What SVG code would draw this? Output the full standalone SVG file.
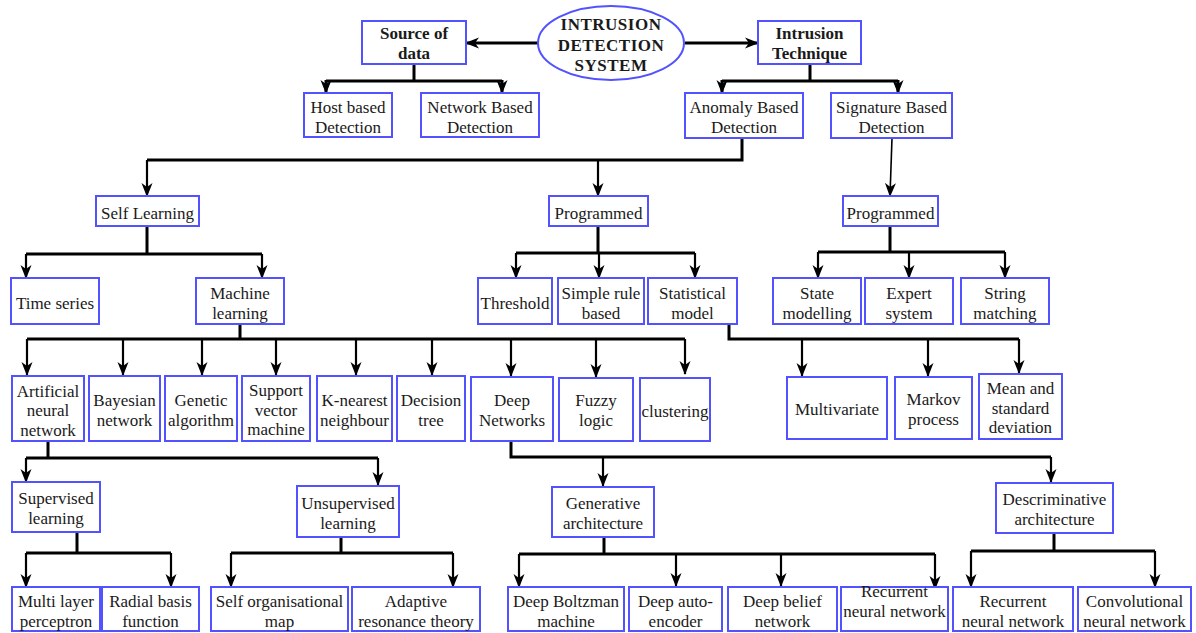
<svg xmlns="http://www.w3.org/2000/svg" width="1196" height="633" viewBox="0 0 1196 633">
<defs>
<style>
.bx{fill:#fff;stroke:#5252ff;stroke-width:2}
.t{font-family:"Liberation Serif","Times New Roman",serif;font-size:17px;fill:#1a1a1a;text-anchor:middle}
.b{font-weight:bold}
.tr{fill:none;stroke:#000;stroke-width:3}
.ar{fill:none;stroke:#000;stroke-width:2.2;marker-end:url(#ah)}
.ar3{fill:none;stroke:#000;stroke-width:3;marker-end:url(#ah)}
.ar1{fill:none;stroke:#000;stroke-width:1.6;marker-end:url(#ah)}
</style>
<marker id="ah" viewBox="0 0 14 12" refX="13" refY="6" markerWidth="14" markerHeight="12" markerUnits="userSpaceOnUse" orient="auto">
<path d="M0,0.5 L14,6 L0,11.5 L4,6 z" fill="#000"/>
</marker>
</defs>
<rect width="1196" height="633" fill="#fff"/>

<g id="connectors">
<path class="ar3" d="M538,43 H466"/>
<path class="ar3" d="M685,43 H758"/>
<path class="tr" d="M414,64 V81 M326,81 H502"/>
<path class="ar3" d="M326,80 V93"/><path class="ar3" d="M502,80 V93"/>
<path class="tr" d="M810,64 V81 M722,81 H898"/>
<path class="ar3" d="M722,80 V93"/><path class="ar3" d="M898,80 V93"/>
<path class="tr" d="M742,138 V160 H147"/>
<path class="ar" d="M147,160 V196"/><path class="ar" d="M598,160 V196"/>
<path class="ar1" d="M892,138 L890,196"/>
<path class="tr" d="M147,226 V254 M26,254 H262"/>
<path class="ar" d="M26,254 V278"/><path class="ar" d="M262,254 V278"/>
<path class="tr" d="M598,226 V253 M516,253 H695"/>
<path class="ar" d="M516,253 V278"/><path class="ar" d="M599,253 V278"/><path class="ar" d="M695,253 V278"/>
<path class="tr" d="M890,226 V252 M818,252 H1005"/>
<path class="ar" d="M818,252 V278"/><path class="ar" d="M909,252 V278"/><path class="ar" d="M1005,252 V278"/>
<path class="tr" d="M240,324 V339 M27,339 H685"/>
<path class="ar" d="M27,339 V375"/><path class="ar" d="M123,339 V375"/><path class="ar" d="M202,339 V375"/><path class="ar" d="M276,339 V375"/><path class="ar" d="M356,339 V375"/><path class="ar" d="M432,339 V375"/><path class="ar" d="M511,339 V376"/><path class="ar" d="M596,339 V377"/><path class="ar" d="M685,339 V374"/>
<path class="tr" d="M729,324 V339 H1019"/>
<path class="ar" d="M802,339 V376"/><path class="ar" d="M928,339 V376"/><path class="ar" d="M1019,339 V373"/>
<path class="tr" d="M48,441 V458 M26,458 H378"/>
<path class="ar" d="M26,458 V482"/><path class="ar" d="M378,458 V485"/>
<path class="tr" d="M511,441 V457 H1051"/>
<path class="ar" d="M603,457 V486"/><path class="ar" d="M1051,457 V482"/>
<path class="tr" d="M77,532 V553 M26,553 H171"/>
<path class="ar" d="M26,553 V587"/><path class="ar" d="M171,553 V587"/>
<path class="tr" d="M341,537 V553 M231,553 H453"/>
<path class="ar" d="M231,553 V587"/><path class="ar" d="M453,553 V587"/>
<path class="tr" d="M604,537 V554 M519,554 H935"/>
<path class="ar" d="M519,554 V587"/><path class="ar" d="M676,554 V586"/><path class="ar" d="M781,554 V586"/><path class="ar" d="M935,554 V589"/>
<path class="tr" d="M1054,533 V551 M971,551 H1155"/>
<path class="ar" d="M971,551 V587"/><path class="ar" d="M1155,551 V587"/>
</g>

<g id="ids"><ellipse class="bx" cx="611" cy="43" rx="73" ry="37"/><text class="t b" letter-spacing="0.5" x="611" y="30">INTRUSION</text><text class="t b" letter-spacing="0.5" x="611" y="51">DETECTION</text><text class="t b" letter-spacing="0.5" x="611" y="71">SYSTEM</text></g>
<g id="source"><rect class="bx" x="362" y="21" width="104" height="43"/><text class="t b" x="414" y="39">Source of</text><text class="t b" x="414" y="59">data</text></g>
<g id="technique"><rect class="bx" x="758" y="21" width="103" height="43"/><text class="t b" x="809.5" y="39">Intrusion</text><text class="t b" x="809.5" y="59">Technique</text></g>
<g id="host"><rect class="bx" x="304" y="93" width="88" height="44"/><text class="t" x="348" y="112.5">Host based</text><text class="t" x="348" y="132.5">Detection</text></g>
<g id="network"><rect class="bx" x="421" y="93" width="118" height="44"/><text class="t" x="480" y="112.5">Network Based</text><text class="t" x="480" y="132.5">Detection</text></g>
<g id="anomaly"><rect class="bx" x="685" y="93" width="118" height="45"/><text class="t" x="744" y="112.5">Anomaly Based</text><text class="t" x="744" y="132.5">Detection</text></g>
<g id="signature"><rect class="bx" x="831" y="93" width="121" height="45"/><text class="t" x="891.5" y="112.5">Signature Based</text><text class="t" x="891.5" y="132.5">Detection</text></g>
<g id="selflearning"><rect class="bx" x="96" y="196" width="103" height="30"/><text class="t" x="147.5" y="218.5">Self Learning</text></g>
<g id="programmed1"><rect class="bx" x="549" y="196" width="99" height="30"/><text class="t" x="598.5" y="218.5">Programmed</text></g>
<g id="programmed2"><rect class="bx" x="843" y="196" width="95" height="30"/><text class="t" x="890.5" y="218.5">Programmed</text></g>
<g id="timeseries"><rect class="bx" x="11" y="278" width="88" height="46"/><text class="t" x="55" y="308.5">Time series</text></g>
<g id="machinelearning"><rect class="bx" x="196" y="278" width="88" height="46"/><text class="t" x="240" y="298.5">Machine</text><text class="t" x="240" y="318.5">learning</text></g>
<g id="threshold"><rect class="bx" x="478" y="278" width="74" height="46"/><text class="t" x="515" y="308.5">Threshold</text></g>
<g id="simplerule"><rect class="bx" x="558" y="278" width="86" height="46"/><text class="t" x="601" y="298.5">Simple rule</text><text class="t" x="601" y="318.5">based</text></g>
<g id="statistical"><rect class="bx" x="648" y="278" width="89" height="46"/><text class="t" x="692.5" y="298.5">Statistical</text><text class="t" x="692.5" y="318.5">model</text></g>
<g id="state"><rect class="bx" x="773" y="278" width="88" height="46"/><text class="t" x="817" y="298.5">State</text><text class="t" x="817" y="318.5">modelling</text></g>
<g id="expert"><rect class="bx" x="865" y="278" width="88" height="46"/><text class="t" x="909" y="298.5">Expert</text><text class="t" x="909" y="318.5">system</text></g>
<g id="string"><rect class="bx" x="961" y="278" width="88" height="46"/><text class="t" x="1005" y="298.5">String</text><text class="t" x="1005" y="318.5">matching</text></g>
<g id="ann"><rect class="bx" x="12" y="376" width="72" height="65"/><text class="t" x="48" y="396.5">Artificial</text><text class="t" x="48" y="416">neural</text><text class="t" x="48" y="435.5">network</text></g>
<g id="bayesian"><rect class="bx" x="89" y="376" width="71" height="65"/><text class="t" x="124.5" y="406">Bayesian</text><text class="t" x="124.5" y="425.5">network</text></g>
<g id="genetic"><rect class="bx" x="165" y="376" width="72" height="65"/><text class="t" x="201" y="406">Genetic</text><text class="t" x="201" y="425.5">algorithm</text></g>
<g id="svm"><rect class="bx" x="242" y="376" width="68" height="65"/><text class="t" x="276" y="396">Support</text><text class="t" x="276" y="415.5">vector</text><text class="t" x="276" y="435">machine</text></g>
<g id="knn"><rect class="bx" x="317" y="376" width="75" height="65"/><text class="t" x="354.5" y="406">K-nearest</text><text class="t" x="354.5" y="425.5">neighbour</text></g>
<g id="decisiontree"><rect class="bx" x="397" y="376" width="68" height="65"/><text class="t" x="431" y="406">Decision</text><text class="t" x="431" y="425.5">tree</text></g>
<g id="deepnetworks"><rect class="bx" x="471" y="377" width="82" height="64"/><text class="t" x="512" y="406">Deep</text><text class="t" x="512" y="425.5">Networks</text></g>
<g id="fuzzy"><rect class="bx" x="559" y="378" width="74" height="63"/><text class="t" x="596" y="406">Fuzzy</text><text class="t" x="596" y="425.5">logic</text></g>
<g id="clustering"><rect class="bx" x="640" y="378" width="70" height="63"/><text class="t" x="675" y="417">clustering</text></g>
<g id="multivariate"><rect class="bx" x="787" y="377" width="100" height="62"/><text class="t" x="837" y="415">Multivariate</text></g>
<g id="markov"><rect class="bx" x="895" y="377" width="77" height="62"/><text class="t" x="933.5" y="405">Markov</text><text class="t" x="933.5" y="424.5">process</text></g>
<g id="mean"><rect class="bx" x="979" y="374" width="83" height="65"/><text class="t" x="1020.5" y="394">Mean and</text><text class="t" x="1020.5" y="413.5">standard</text><text class="t" x="1020.5" y="433">deviation</text></g>
<g id="supervised"><rect class="bx" x="12" y="482" width="88" height="50"/><text class="t" x="56" y="504">Supervised</text><text class="t" x="56" y="524">learning</text></g>
<g id="unsupervised"><rect class="bx" x="297" y="486" width="102" height="51"/><text class="t" x="348" y="509">Unsupervised</text><text class="t" x="348" y="529">learning</text></g>
<g id="generative"><rect class="bx" x="552" y="487" width="102" height="50"/><text class="t" x="603" y="509">Generative</text><text class="t" x="603" y="529">architecture</text></g>
<g id="descriminative"><rect class="bx" x="996" y="483" width="117" height="50"/><text class="t" x="1054.5" y="505">Descriminative</text><text class="t" x="1054.5" y="525">architecture</text></g>
<g id="mlp"><rect class="bx" x="12" y="587" width="88" height="44"/><text class="t" x="56" y="607">Multi layer</text><text class="t" x="56" y="627">perceptron</text></g>
<g id="rbf"><rect class="bx" x="102" y="587" width="97" height="44"/><text class="t" x="150.5" y="607">Radial basis</text><text class="t" x="150.5" y="627">function</text></g>
<g id="som"><rect class="bx" x="211" y="587" width="137" height="44"/><text class="t" x="279.5" y="607">Self organisational</text><text class="t" x="279.5" y="627">map</text></g>
<g id="art"><rect class="bx" x="352" y="587" width="128" height="44"/><text class="t" x="416" y="607">Adaptive</text><text class="t" x="416" y="627">resonance theory</text></g>
<g id="dbm"><rect class="bx" x="508" y="587" width="116" height="44"/><text class="t" x="566" y="607">Deep Boltzman</text><text class="t" x="566" y="627">machine</text></g>
<g id="dae"><rect class="bx" x="629" y="587" width="93" height="44"/><text class="t" x="675.5" y="607">Deep auto-</text><text class="t" x="675.5" y="627">encoder</text></g>
<g id="dbn"><rect class="bx" x="728" y="587" width="109" height="44"/><text class="t" x="782.5" y="607">Deep belief</text><text class="t" x="782.5" y="627">network</text></g>
<g id="rnn1"><rect class="bx" x="841" y="587" width="107" height="44"/><text class="t" x="894.5" y="596.5">Recurrent</text><text class="t" x="894.5" y="616.5">neural network</text></g>
<g id="rnn2"><rect class="bx" x="953" y="587" width="120" height="44"/><text class="t" x="1013" y="607">Recurrent</text><text class="t" x="1013" y="627">neural network</text></g>
<g id="cnn"><rect class="bx" x="1078" y="587" width="113" height="44"/><text class="t" x="1134.5" y="607">Convolutional</text><text class="t" x="1134.5" y="627">neural network</text></g>
</svg>
